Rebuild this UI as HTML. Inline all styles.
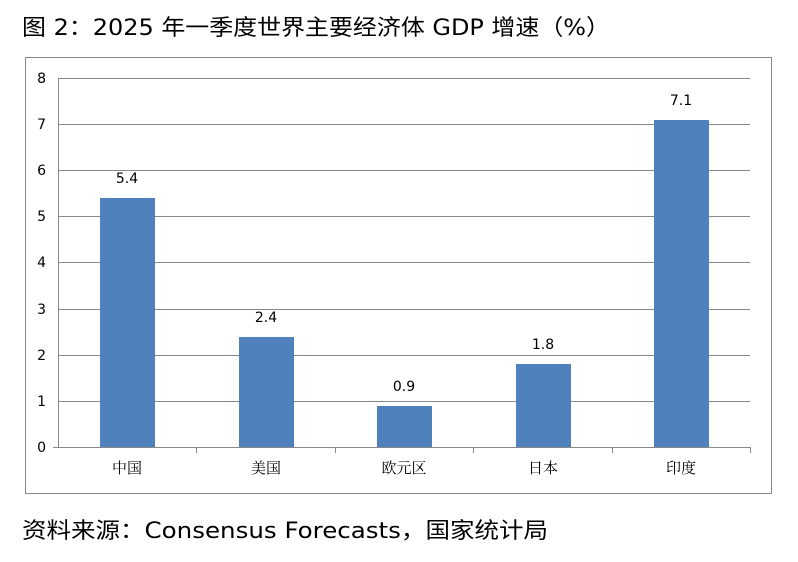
<!DOCTYPE html>
<html><head><meta charset="utf-8"><style>
body{margin:0;background:#fff;width:798px;height:562px;overflow:hidden;font-family:"Liberation Sans","Noto Sans CJK SC",sans-serif;}
</style></head><body>
<svg width="798" height="562" xmlns="http://www.w3.org/2000/svg" style="position:absolute;left:0;top:0">
<text x="22" y="35" font-size="22" fill="#000" textLength="588" lengthAdjust="spacingAndGlyphs" font-family="DejaVu Sans, Noto Sans CJK SC, sans-serif">图 2：2025 年一季度世界主要经济体 GDP 增速（%）</text>
<rect x="25.5" y="57.5" width="746" height="436" fill="#fff" stroke="#888" stroke-width="1"/>
<g stroke="#888" stroke-width="1">
<line x1="58" y1="78.5" x2="750" y2="78.5"/>
<line x1="58" y1="124.5" x2="750" y2="124.5"/>
<line x1="58" y1="170.5" x2="750" y2="170.5"/>
<line x1="58" y1="216.5" x2="750" y2="216.5"/>
<line x1="58" y1="262.5" x2="750" y2="262.5"/>
<line x1="58" y1="309.5" x2="750" y2="309.5"/>
<line x1="58" y1="355.5" x2="750" y2="355.5"/>
<line x1="58" y1="401.5" x2="750" y2="401.5"/>
<line x1="58.5" y1="78" x2="58.5" y2="447"/>
<line x1="53" y1="447.5" x2="750" y2="447.5"/>
<line x1="196.5" y1="447" x2="196.5" y2="453"/>
<line x1="335.5" y1="447" x2="335.5" y2="453"/>
<line x1="473.5" y1="447" x2="473.5" y2="453"/>
<line x1="612.5" y1="447" x2="612.5" y2="453"/>
<line x1="750.5" y1="447" x2="750.5" y2="453"/>
</g>
<g fill="#4f81bd">
<rect x="100" y="198" width="55" height="249"/>
<rect x="239" y="337" width="55" height="110"/>
<rect x="377" y="406" width="55" height="41"/>
<rect x="516" y="364" width="55" height="83"/>
<rect x="654" y="120" width="55" height="327"/>
</g>
<g font-size="14" fill="#000" text-anchor="end" font-family="DejaVu Sans, sans-serif">
<text x="46" y="452">0</text><text x="46" y="406">1</text><text x="46" y="360">2</text><text x="46" y="314">3</text><text x="46" y="267">4</text><text x="46" y="221">5</text><text x="46" y="175">6</text><text x="46" y="129">7</text><text x="46" y="83">8</text>
</g>
<g font-size="14" fill="#000" text-anchor="middle" font-family="DejaVu Sans, sans-serif">
<text x="127" y="183">5.4</text><text x="266" y="322">2.4</text><text x="404" y="391">0.9</text><text x="543" y="349">1.8</text><text x="681" y="105">7.1</text>
</g>
<g font-size="15" fill="#000" text-anchor="middle" font-family="Noto Serif CJK SC, serif">
<text x="127" y="473">中国</text><text x="266" y="473">美国</text><text x="404" y="473">欧元区</text><text x="543" y="473">日本</text><text x="681" y="473">印度</text>
</g>
<text x="22" y="538" font-size="22" fill="#000" textLength="526" lengthAdjust="spacingAndGlyphs" font-family="DejaVu Sans, Noto Sans CJK SC, sans-serif">资料来源：Consensus Forecasts，国家统计局</text>
</svg>
</body></html>
